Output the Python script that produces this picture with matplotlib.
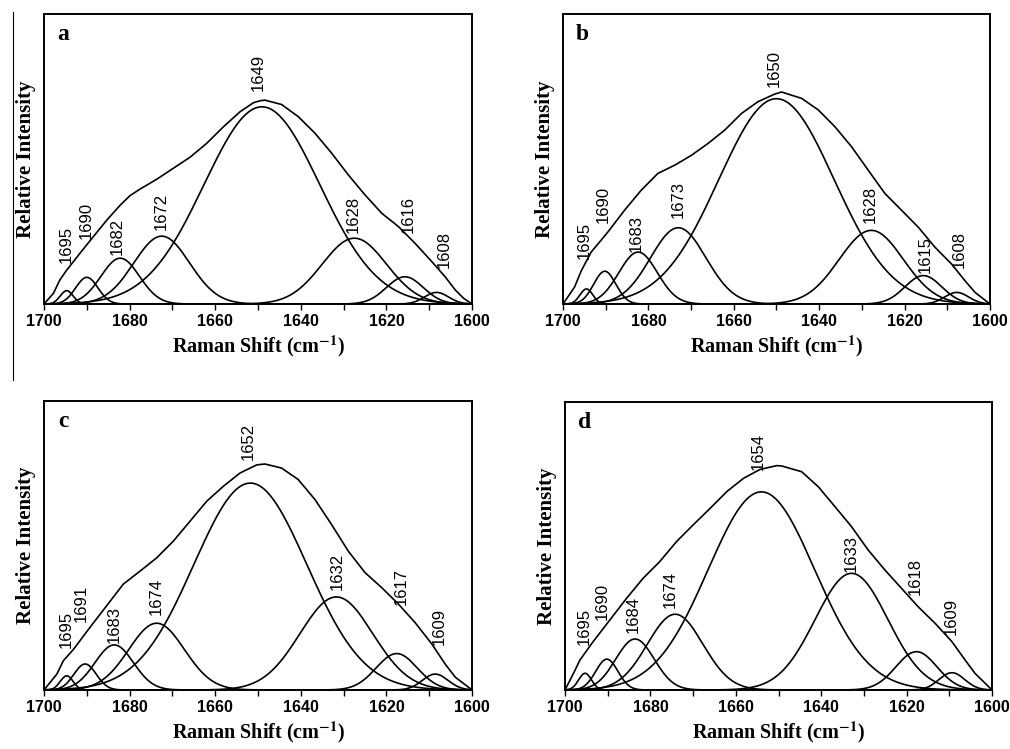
import matplotlib.pyplot as plt
import numpy as np

plt.rcParams['mathtext.fontset'] = 'stix'

# ---- panel a ----
a_env_x = [1700, 1697.8, 1696.3, 1694.7, 1691.6, 1688.5, 1685.3, 1682.2, 1679.9, 1677.6,
           1673.7, 1669.8, 1665.9, 1662.0, 1658.1, 1654.2, 1651.1, 1649.5, 1648.4, 1644.5,
           1640.6, 1636.7, 1632.8, 1628.9, 1625.0, 1621.1, 1617.2, 1613.3, 1609.4, 1606.3,
           1603.9, 1602.0, 1600]
a_env_y = [0, 0.037, 0.083, 0.117, 0.175, 0.232, 0.29, 0.341, 0.374, 0.396,
           0.43, 0.468, 0.506, 0.554, 0.611, 0.663, 0.694, 0.701, 0.703, 0.688,
           0.646, 0.589, 0.52, 0.445, 0.376, 0.313, 0.267, 0.209, 0.146, 0.094,
           0.048, 0.02, 0]
a_pos = [1694.7, 1690.0, 1682.2, 1672.5, 1649.1, 1627.5, 1615.7, 1608.3]
a_height = [0.046, 0.092, 0.158, 0.234, 0.68, 0.227, 0.094, 0.040]
a_width = [1.5, 2.6, 4.5, 6.5, 13.5, 7.5, 4.3, 2.8]
a_labels = ['1695', '1690', '1682', '1672', '1649', '1628', '1616', '1608']
a_lab_x = [1694.8, 1690.2, 1682.9, 1672.7, 1649.9, 1627.8, 1614.8, 1606.6]
a_lab_y = [0.14, 0.223, 0.169, 0.255, 0.733, 0.244, 0.244, 0.123]

# ---- panel b ----
b_env_x = [1700, 1697.3, 1695.7, 1693.4, 1689.5, 1685.6, 1681.7, 1677.8, 1673.8, 1669.9,
           1666.0, 1662.1, 1658.2, 1654.3, 1650.4, 1648.8, 1644.1, 1640.2, 1636.3, 1632.4,
           1628.5, 1624.6, 1620.7, 1616.8, 1612.9, 1609.0, 1605.9, 1603.5, 1600]
b_env_y = [0, 0.058, 0.115, 0.179, 0.248, 0.323, 0.392, 0.45, 0.479, 0.513,
           0.554, 0.60, 0.657, 0.698, 0.724, 0.731, 0.709, 0.669, 0.611, 0.542,
           0.461, 0.381, 0.323, 0.265, 0.196, 0.138, 0.081, 0.04, 0]
b_pos = [1694.5, 1690.2, 1682.4, 1673.0, 1650.0, 1627.8, 1615.6, 1607.8]
b_height = [0.052, 0.113, 0.179, 0.263, 0.708, 0.254, 0.098, 0.040]
b_width = [1.5, 2.6, 4.5, 6.5, 13.5, 7.5, 4.3, 2.8]
b_labels = ['1695', '1690', '1683', '1673', '1650', '1628', '1615', '1608']
b_lab_x = [1695.1, 1690.5, 1682.8, 1673.0, 1650.5, 1628.1, 1615.1, 1607.3]
b_lab_y = [0.155, 0.279, 0.181, 0.296, 0.75, 0.281, 0.106, 0.123]

# ---- panel c ----
c_env_x = [1700, 1697.0, 1695.5, 1693.1, 1689.3, 1685.4, 1681.5, 1677.6, 1673.7, 1669.8,
           1665.9, 1662.0, 1658.1, 1654.2, 1650.3, 1648.4, 1644.5, 1640.6, 1636.7, 1632.8,
           1628.9, 1625.0, 1621.1, 1617.2, 1613.3, 1609.4, 1606.3, 1603.9, 1600]
c_env_y = [0, 0.055, 0.101, 0.141, 0.216, 0.291, 0.366, 0.411, 0.457, 0.515,
           0.584, 0.653, 0.705, 0.751, 0.779, 0.782, 0.768, 0.728, 0.659, 0.572,
           0.48, 0.406, 0.354, 0.297, 0.233, 0.159, 0.09, 0.044, 0]
c_pos = [1694.7, 1690.4, 1683.6, 1673.7, 1651.8, 1631.7, 1617.6, 1608.6]
c_height = [0.049, 0.090, 0.156, 0.231, 0.716, 0.322, 0.126, 0.055]
c_width = [1.5, 2.6, 4.5, 6.5, 13.2, 8.5, 4.8, 3.0]
c_labels = ['1695', '1691', '1683', '1674', '1652', '1632', '1617', '1609']
c_lab_x = [1694.8, 1691.3, 1683.5, 1673.7, 1652.3, 1631.5, 1616.5, 1607.6]
c_lab_y = [0.146, 0.236, 0.161, 0.259, 0.795, 0.346, 0.294, 0.156]

# ---- panel d ----
d_env_x = [1700, 1698.0, 1696.5, 1693.4, 1689.5, 1685.6, 1681.7, 1677.8, 1673.9, 1670.0,
           1666.0, 1662.1, 1658.2, 1654.3, 1650.4, 1649.3, 1644.6, 1640.7, 1636.8, 1632.9,
           1629.0, 1625.1, 1621.2, 1617.3, 1613.3, 1609.4, 1606.3, 1604.0, 1600]
d_env_y = [0, 0.058, 0.104, 0.168, 0.243, 0.318, 0.388, 0.446, 0.515, 0.573,
           0.631, 0.689, 0.735, 0.766, 0.779, 0.778, 0.758, 0.706, 0.637, 0.567,
           0.486, 0.417, 0.353, 0.289, 0.231, 0.168, 0.104, 0.058, 0]
d_pos = [1695.3, 1690.2, 1683.6, 1674.2, 1654.0, 1632.9, 1617.7, 1609.4]
d_height = [0.058, 0.107, 0.177, 0.263, 0.688, 0.405, 0.133, 0.060]
d_width = [1.5, 2.6, 4.5, 6.5, 12.5, 8.5, 4.8, 3.0]
d_labels = ['1695', '1690', '1684', '1674', '1654', '1633', '1618', '1609']
d_lab_x = [1695.6, 1691.2, 1684.0, 1675.3, 1654.8, 1632.9, 1617.9, 1609.5]
d_lab_y = [0.156, 0.243, 0.197, 0.283, 0.763, 0.41, 0.33, 0.191]

panels = [
    ('a', [0.0436, 0.5941, 0.4238, 0.3872], a_env_x, a_env_y, a_pos, a_height, a_width, a_labels, a_lab_x, a_lab_y),
    ('b', [0.5574, 0.5941, 0.4228, 0.3872], b_env_x, b_env_y, b_pos, b_height, b_width, b_labels, b_lab_x, b_lab_y),
    ('c', [0.0436, 0.0788, 0.4238, 0.3858], c_env_x, c_env_y, c_pos, c_height, c_width, c_labels, c_lab_x, c_lab_y),
    ('d', [0.5594, 0.0788, 0.4228, 0.3845], d_env_x, d_env_y, d_pos, d_height, d_width, d_labels, d_lab_x, d_lab_y),
]


def gauss(x, a, x0, s):
    return a * np.exp(-(x - x0) ** 2 / (2 * s ** 2))


fig = plt.figure(figsize=(10.1, 7.49), dpi=100)
xs = np.linspace(1600, 1700, 600)

for letter, rect, ex, ey, pos, hgt, wid, labs, lx, ly in panels:
    ax = fig.add_axes(rect)
    for p, h, w in zip(pos, hgt, wid):
        ax.plot(xs, gauss(xs, h, p, w), color='black', lw=1.2)
    ax.plot(ex, ey, color='black', lw=1.2)
    for t, x, y in zip(labs, lx, ly):
        ax.text(x, y, t, rotation=90, ha='center', va='bottom',
                family='Liberation Sans', fontsize=12)
    ax.text(0.045, 0.93, letter, transform=ax.transAxes, ha='center', va='center',
            family='Liberation Serif', fontweight='bold', fontsize=17)

    ax.set_xlim(1700, 1600)
    ax.set_ylim(0, 1)
    ticks = np.arange(1700, 1599, -10)
    ax.set_xticks(ticks)
    ax.set_xticklabels([str(t) if t % 20 == 0 else '' for t in ticks],
                       family='Liberation Sans', fontweight='bold', fontsize=11.5)
    ax.tick_params(axis='x', direction='out', length=4.5, width=1, pad=3)
    ax.set_yticks([])
    for sp in ax.spines.values():
        sp.set_linewidth(1.4)
    ax.set_xlabel(r'Raman Shift (cm$^{\mathbf{-1}}$)', family='Liberation Serif',
                  fontweight='bold', fontsize=14.5, labelpad=3)
    ax.set_ylabel('Relative Intensity', family='Liberation Serif',
                  fontweight='bold', fontsize=15, labelpad=6)

# stray border line at the left of the upper panels
fig.add_artist(plt.Line2D([0.0129, 0.0129], [0.984, 0.492], color='black', lw=0.8))

fig.savefig('out.png', dpi=100)
